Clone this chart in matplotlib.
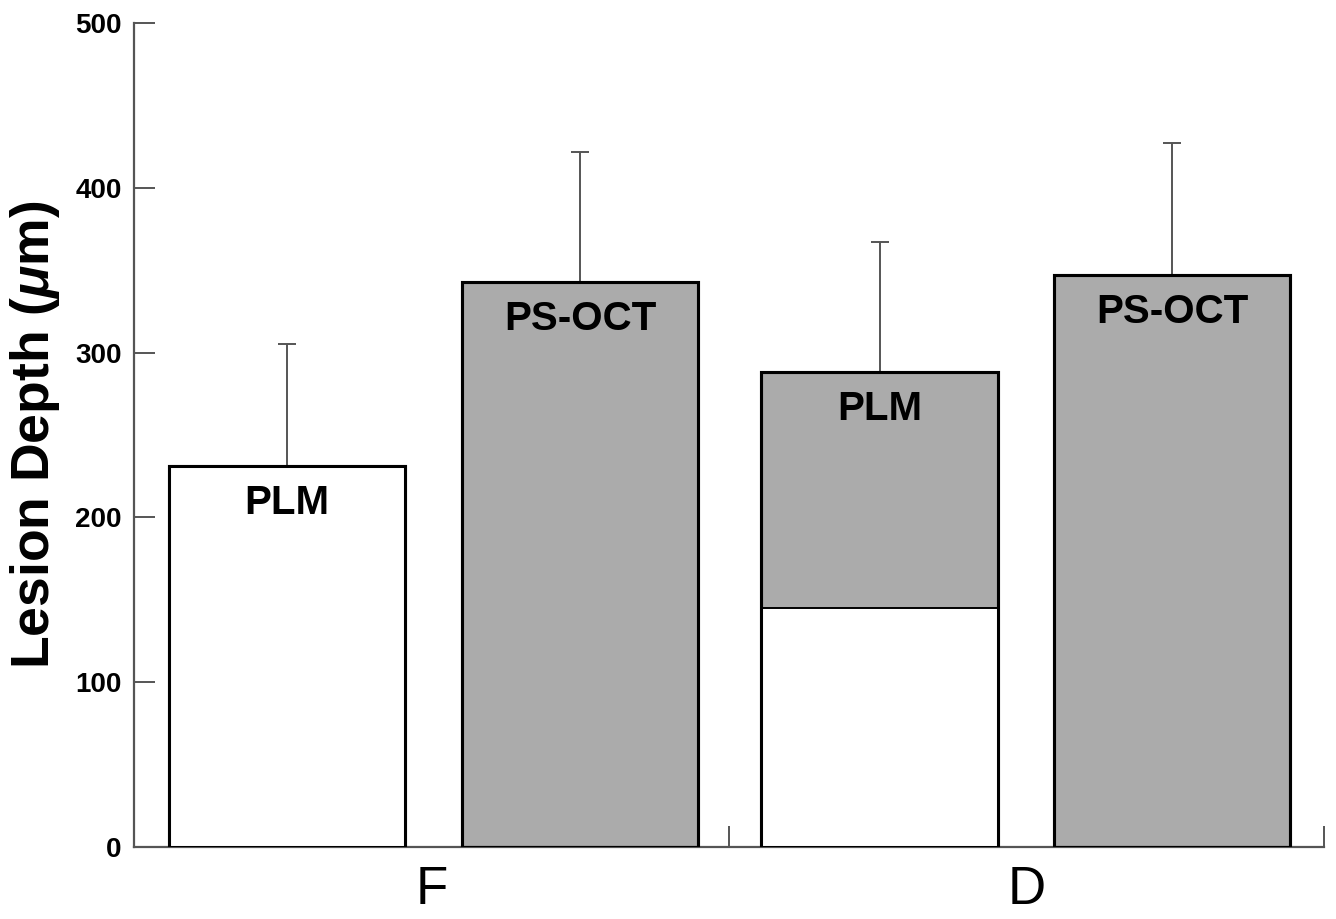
import matplotlib
matplotlib.use('Agg')
import matplotlib.pyplot as plt
import numpy as np

plt.rcParams['font.family'] = 'Liberation Sans'
plt.rcParams['mathtext.fontset'] = 'custom'
plt.rcParams['mathtext.it'] = 'Liberation Sans:italic:bold'
plt.rcParams['mathtext.rm'] = 'Liberation Sans:bold'

# ––– values (um)
groups = ['F', 'D']
bar_labels = ['PLM', 'PS-OCT', 'PLM', 'PS-OCT']
depth = [231, 343, 288, 347]
depth_err = [74, 79, 79, 80]
# the D / PLM bar is split: lower white part
white_part = [231, 0, 145, 0]

gray = '#ababab'
axis_col = '#555555'

x = np.array([0.257, 0.75, 1.253, 1.745])
width = 0.397

fig = plt.figure(figsize=(13.36, 9.19), dpi=100)
ax = fig.add_axes([0.1003, 0.0783, 0.8907, 0.8967])

# gray part first, then white part on top of it from zero
ax.bar(x, depth, width, color=gray, edgecolor='black', linewidth=2.2, zorder=2)
for i in range(len(x)):
    if white_part[i] > 0:
        ax.bar(x[i], white_part[i], width, color='white', edgecolor='black', linewidth=1.4, zorder=3)
# outline once more so the thick edge stays on top
ax.bar(x, depth, width, color='none', edgecolor='black', linewidth=2.2, zorder=4)

ax.errorbar(x, depth, yerr=[np.zeros(len(x)), depth_err], fmt='none', ecolor=axis_col,
            elinewidth=1.4, capsize=6.5, capthick=1.4, zorder=1)

for i in range(len(x)):
    ax.annotate(bar_labels[i], (x[i], depth[i]), xytext=(0, -13), textcoords='offset points',
                ha='center', va='top', fontsize=29, fontweight='bold', zorder=5)

ax.set_xlim(0, 2)
ax.set_ylim(0, 500)
ax.set_yticks([0, 100, 200, 300, 400, 500])
ax.set_xticks([0, 1, 2])
ax.set_xticklabels([])
ax.set_xticks([0.5, 1.5], minor=True)
ax.set_xticklabels(groups, minor=True, fontsize=38)
ax.tick_params(axis='x', which='minor', length=0, pad=13)
ax.tick_params(axis='x', which='major', direction='in', length=15, width=1.4, color=axis_col)
ax.tick_params(axis='y', direction='in', length=15, width=1.4, color=axis_col,
               labelsize=20, pad=9)
for lab in ax.get_yticklabels():
    lab.set_fontweight('bold')

for s in ['top', 'right']:
    ax.spines[s].set_visible(False)
for s in ['left', 'bottom']:
    ax.spines[s].set_color(axis_col)
    ax.spines[s].set_linewidth(1.6)

ax.set_ylabel(r'Lesion Depth ($\mu$m)', fontsize=38.5, fontweight='bold')
ax.yaxis.set_label_coords(-0.0606, 0.5)

plt.savefig('out.png', dpi=100)
